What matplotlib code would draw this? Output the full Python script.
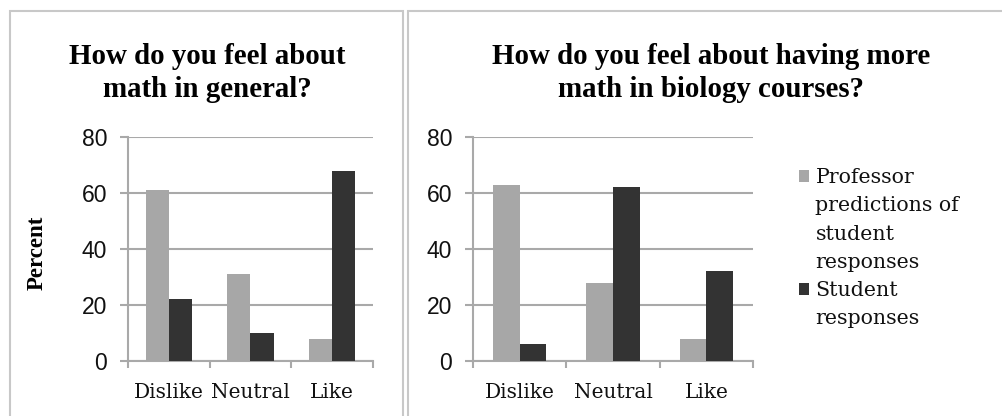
import matplotlib
matplotlib.use("Agg")
import matplotlib.pyplot as plt
import numpy as np
from matplotlib.patches import Rectangle, Patch

# data (percent)
categories = ["Dislike", "Neutral", "Like"]
general_prof = [61, 31, 8]
general_students = [22, 10, 68]
biology_prof = [63, 28, 8]
biology_students = [6, 62, 32]

titles = ["How do you feel about\nmath in general?",
          "How do you feel about having more\nmath in biology courses?"]
legend_prof = ["Professor", "predictions of", "student", "responses"]
legend_students = ["Student", "responses"]

light = "#a7a7a7"
dark = "#333333"
grid = "#a9a9a9"

W, H = 1002, 416
fig = plt.figure(figsize=(W / 100, H / 100), dpi=100)


def fx(px):
    return px / W


def fy(py):
    return 1 - py / H


# panel frames
for x0, x1 in [(10, 403), (408, 1010)]:
    fig.patches.append(Rectangle((fx(x0), fy(430)), fx(x1 - x0), (430 - 11) / H,
                                 transform=fig.transFigure, fill=False,
                                 edgecolor="#c8c8c8", linewidth=1.5))

axes_px = [(128, 373), (473, 753)]
data = [(general_prof, general_students), (biology_prof, biology_students)]
title_x = [207, 711]

x = np.arange(len(categories))
w = 0.285
for i, ((a0, a1), (prof, stud)) in enumerate(zip(axes_px, data)):
    ax = fig.add_axes([fx(a0), fy(361), fx(a1 - a0), (361 - 137) / H])
    b1 = ax.bar(x - w / 2, prof, w, color=light, zorder=3)
    b2 = ax.bar(x + w / 2, stud, w, color=dark, zorder=3)
    ax.set_xlim(-0.5, 2.5)
    ax.set_ylim(0, 80)
    ax.set_yticks([0, 20, 40, 60, 80])
    ax.yaxis.grid(True, color=grid, linewidth=1.5, zorder=0)
    for s in ["top", "right"]:
        ax.spines[s].set_visible(False)
    for s in ["left", "bottom"]:
        ax.spines[s].set_color(grid)
        ax.spines[s].set_linewidth(1.5)
    ax.set_xticks(x)
    ax.set_xticklabels(categories, family="DejaVu Serif", fontsize=14.5,
                       color="#111111")
    ax.set_xticks(np.arange(-0.5, 3, 1), minor=True)
    ax.tick_params(axis="x", which="major", length=0, pad=16)
    ax.tick_params(axis="x", which="minor", length=5, width=1.5, color=grid)
    ax.tick_params(axis="y", length=6, width=1.5, color=grid, pad=9,
                   labelsize=16.5, labelcolor="#111111")
    for t in ax.get_yticklabels():
        t.set_family("Liberation Sans")
    fig.text(fx(title_x[i]), fy(73), titles[i], ha="center", va="center",
             family="Liberation Serif", fontweight="bold", fontsize=20.8,
             linespacing=1.25)
    if i == 0:
        fig.text(fx(37), fy(253), "Percent", rotation=90, ha="center",
                 va="center", family="Liberation Serif", fontweight="bold",
                 fontsize=16.5)
    else:
        blank = Patch(facecolor="none", edgecolor="none")
        handles = [b1.patches[0]] + [blank] * 3 + [b2.patches[0]] + [blank]
        labels = legend_prof + legend_students
        leg = ax.legend(handles, labels, loc="upper left",
                        bbox_to_anchor=(fx(799), fy(168)),
                        bbox_transform=fig.transFigure, frameon=False,
                        prop={"family": "DejaVu Serif", "size": 14.8},
                        handlelength=0.5, handleheight=0.5,
                        handletextpad=0.3, labelspacing=0.45,
                        borderpad=0, borderaxespad=0)
        for t in leg.get_texts():
            t.set_color("#111111")

fig.savefig("out.png", dpi=100, facecolor="white")
